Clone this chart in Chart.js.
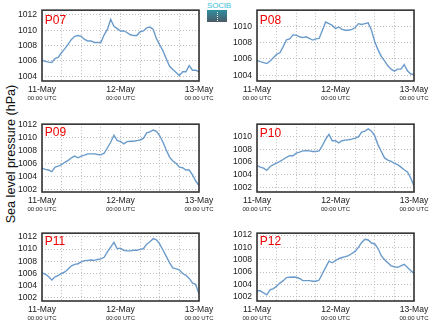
<!DOCTYPE html>
<html>
<head>
<meta charset="utf-8">
<script src="https://cdn.jsdelivr.net/npm/chart.js@4.4.0/dist/chart.umd.min.js"></script>
<style>
  body { margin: 0; background: #fff; width: 434px; height: 327px; overflow: hidden; position: relative;
         font-family: "Liberation Sans", Arial, sans-serif; }
  canvas { position: absolute; }
  #ytitle { position: absolute; left: 11px; top: 154px; transform: translate(-50%, -50%) rotate(-90deg);
            white-space: nowrap; font-size: 12.6px; color: #111; }
  #logo { position: absolute; left: 207px; top: 2px; width: 20px; }
  #logo .txt { font-size: 8px; line-height: 8px; color: #3cc0d8; letter-spacing: -0.2px; }
  #logo .box { height: 12px; background: linear-gradient(#2f8fa0, #4a5a66); position: relative; }
  #logo .box:after { content: ""; position: absolute; left: 10px; top: 2px; height: 9px; border-left: 1px dotted #fff; }
</style>
</head>
<body>
<div id="ytitle">Sea level pressure (hPa)</div>
<div id="logo"><div class="txt">SOCIB</div><div class="box"></div></div>

<script>
// hours since 11-May 00:00 UTC
var hours = [0,1,2,3,4,5,6,7,8,9,10,11,12,13,14,15,16,17,18,19,20,21,22,23,24,
             25,26,27,28,29,30,31,32,33,34,35,36,37,38,39,40,41,42,43,44,45,46,47,48];

var dayTicks = [0, 24, 48];
var dayLabels = ['11-May', '12-May', '13-May'];
var timeLabel = '00:00 UTC';

var stations = ['P07', 'P08', 'P09', 'P10', 'P11', 'P12'];

var p07 = [1006.1,1005.95,1005.85,1005.8,1006.3,1006.5,1007.1,1007.6,1008.2,1008.8,1009.2,1009.3,1009.2,
           1008.8,1008.6,1008.6,1008.4,1008.4,1008.4,1009.4,1010.1,1011.4,1010.5,1010.2,1009.9,
           1009.9,1009.7,1009.4,1009.3,1009.3,1009.8,1009.9,1010.3,1010.4,1010.1,1008.9,1008.1,
           1007.3,1006.3,1005.3,1004.9,1004.5,1004.1,1004.6,1004.6,1005.4,1004.8,1004.8,1004.6];
var p08 = [1005.8,1005.67,1005.55,1005.43,1005.75,1006.15,1006.55,1006.74,1007.5,1008.33,1008.45,1008.93,1008.9,
           1008.7,1008.6,1008.7,1008.5,1008.3,1008.45,1008.5,1009.5,1010.5,1010.3,1010.1,1009.7,
           1009.9,1009.6,1009.5,1009.5,1009.6,1009.8,1010.3,1010.2,1010.3,1010.4,1009.5,1008.1,
           1007.1,1006.3,1005.75,1005.15,1004.75,1004.5,1004.75,1004.75,1005.3,1004.55,1004.15,1004.1];
var p09 = [1005.3,1005.1,1005.0,1004.75,1005.45,1005.6,1005.85,1006.2,1006.5,1006.9,1007.15,1006.9,1007.15,
           1007.3,1007.5,1007.5,1007.5,1007.4,1007.35,1007.6,1008.45,1009.3,1010.4,1009.55,1009.45,
           1009.05,1009.4,1009.45,1009.45,1009.55,1009.65,1009.9,1010.75,1010.9,1011.2,1011.0,1010.3,
           1009.3,1008.1,1007.0,1006.4,1006.05,1005.45,1005.35,1005.0,1005.0,1004.25,1003.3,1002.6];
var p10 = [1005.45,1005.2,1005.05,1004.7,1005.3,1005.6,1005.85,1006.1,1006.4,1006.75,1007.0,1007.0,1007.4,
           1007.55,1007.75,1007.8,1007.75,1007.65,1007.65,1007.75,1008.6,1009.6,1010.35,1009.35,1009.35,
           1009.0,1009.35,1009.45,1009.5,1009.6,1009.75,1009.95,1010.7,1010.85,1011.2,1010.85,1010.1,
           1008.7,1007.65,1006.65,1006.3,1006.1,1005.8,1005.6,1005.2,1004.8,1004.45,1003.5,1002.25];
var p11 = [1006.1,1005.9,1005.5,1004.95,1005.45,1005.7,1006.0,1006.25,1006.75,1007.25,1007.5,1007.6,1007.9,
           1008.1,1008.15,1008.2,1008.15,1008.3,1008.4,1008.65,1009.55,1010.3,1011.1,1010.05,1010.15,
           1009.8,1009.7,1009.7,1009.8,1009.8,1009.95,1010.05,1010.8,1011.2,1011.7,1011.5,1010.8,
           1009.8,1008.8,1007.75,1006.9,1006.75,1006.6,1006.0,1005.7,1005.2,1004.45,1004.2,1002.65];
var p12 = [1002.95,1002.95,1002.6,1002.3,1003.1,1003.3,1003.7,1004.2,1004.6,1005.1,1005.15,1005.2,1005.15,
           1004.95,1004.6,1004.6,1004.6,1004.5,1004.5,1004.7,1005.75,1006.75,1007.75,1007.5,1007.85,
           1008.15,1008.35,1008.5,1008.65,1009.0,1009.35,1010.0,1010.8,1011.3,1011.2,1010.7,1010.55,
           1009.8,1008.65,1008.0,1007.5,1007.0,1006.85,1006.75,1007.0,1007.25,1006.75,1006.25,1005.75];

var series = [p07, p08, p09, p10, p11, p12];
var yMins = [1003.4, 1003.3, 1001.6, 1001.3, 1001.5, 1001.3];
var yMaxs = [1012.6, 1011.95, 1012.1, 1011.95, 1012.6, 1012.3];

// layout: plot-area top-left and height of each panel
var plotLeft = [42, 257, 42, 257, 42, 257];
var plotTop  = [5, 5, 119, 119, 228, 228];
var plotH    = [76, 76, 73, 73, 73, 73];
var labelDy  = [14.3, 14.3, 11.5, 12.5, 11.8, 11.8];
var plotW = 157, YW = 42, XH = 28, PT = 5, PR = 20;
var FONT = '"Liberation Sans", Arial, sans-serif';

var framePlugin = {
  id: 'frame',
  afterDraw: function (chart) {
    var ctx = chart.ctx, a = chart.chartArea, xs = chart.scales.x;
    ctx.save();
    ctx.strokeStyle = '#333';
    ctx.lineWidth = 1.6;
    ctx.strokeRect(a.left, a.top, a.right - a.left, a.bottom - a.top);

    // station name
    ctx.fillStyle = '#ee0000';
    ctx.font = '12px ' + FONT;
    ctx.textAlign = 'left';
    ctx.textBaseline = 'alphabetic';
    ctx.fillText(chart.options.plugins.frame.name, a.left + 2.7, a.top + chart.options.plugins.frame.dy);

    // date labels under the axis
    ctx.textAlign = 'center';
    ctx.textBaseline = 'middle';
    ctx.fillStyle = '#222';
    for (var i = 0; i < dayTicks.length; i++) {
      var x = xs.getPixelForValue(dayTicks[i]);
      ctx.font = '8.6px ' + FONT;
      ctx.fillText(dayLabels[i], x, a.bottom + 8.6);
      ctx.font = '6px ' + FONT;
      ctx.fillText(timeLabel, x, a.bottom + 17.4);
    }
    ctx.restore();
  }
};

stations.forEach(function (name, k) {
  var cv = document.createElement('canvas');
  var w = YW + plotW + PR, h = PT + plotH[k] + XH;
  cv.width = w; cv.height = h;
  cv.style.left = (plotLeft[k] - YW) + 'px';
  cv.style.top = (plotTop[k] - PT) + 'px';
  cv.style.width = w + 'px'; cv.style.height = h + 'px';
  document.body.appendChild(cv);

  new Chart(cv.getContext('2d'), {
    type: 'line',
    data: {
      datasets: [{
        data: hours.map(function (hr, i) { return { x: hr, y: series[k][i] }; }),
        borderColor: '#6a9bcb',
        borderWidth: 1.4,
        pointRadius: 0,
        tension: 0,
        fill: false
      }]
    },
    options: {
      responsive: false,
      animation: false,
      devicePixelRatio: 1,
      layout: { padding: { top: PT, right: PR, left: 0, bottom: 0 } },
      plugins: {
        legend: { display: false },
        tooltip: { enabled: false },
        frame: { name: name, dy: labelDy[k] }
      },
      scales: {
        x: {
          type: 'linear', min: 0, max: 48,
          ticks: { stepSize: 6, display: false },
          grid: { color: '#bdbdbd', lineWidth: 1, drawTicks: false },
          border: { display: false, dash: [1, 2] },
          afterFit: function (s) { s.height = XH; }
        },
        y: {
          min: yMins[k], max: yMaxs[k],
          afterBuildTicks: function (s) {
            var t = [];
            for (var v = Math.ceil(s.min / 2) * 2; v <= s.max; v += 2) t.push({ value: v });
            s.ticks = t;
          },
          ticks: {
            padding: 5, color: '#222',
            font: { size: 8.6, family: FONT },
            callback: function (v) { return String(v); }
          },
          grid: { color: '#bdbdbd', lineWidth: 1, drawTicks: false },
          border: { display: false, dash: [1, 2] },
          afterFit: function (s) { s.width = YW; }
        }
      }
    },
    plugins: [framePlugin]
  });
});
</script>
</body>
</html>
